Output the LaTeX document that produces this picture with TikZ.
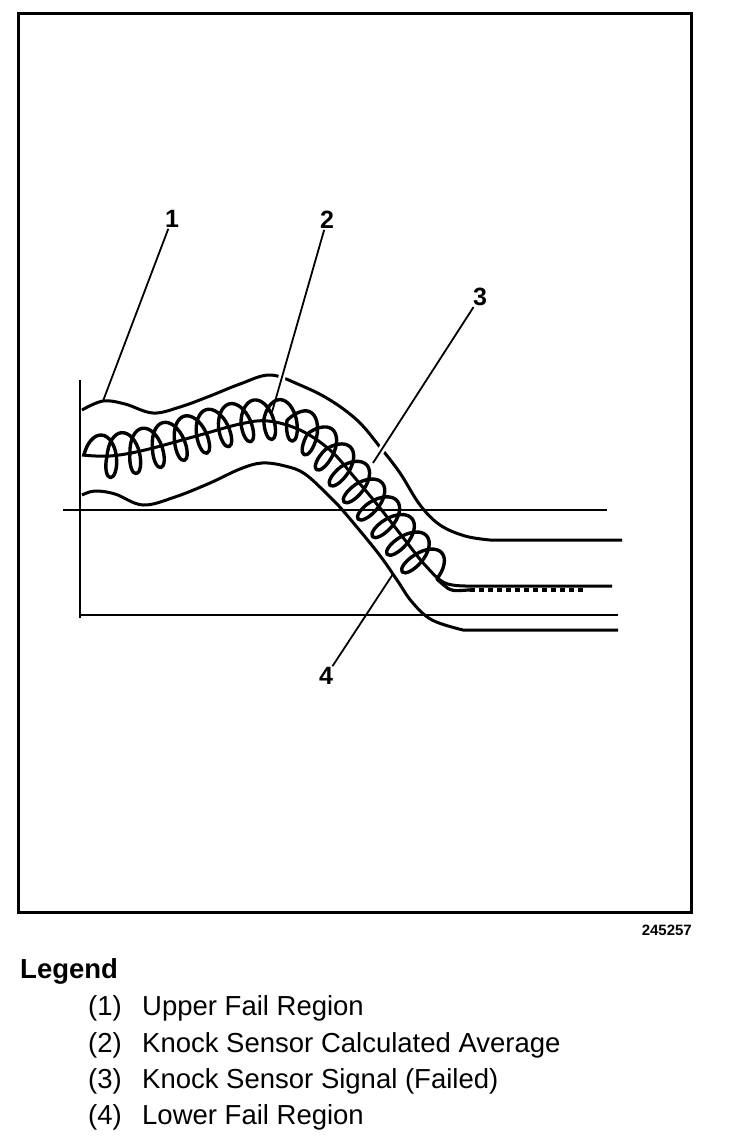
\documentclass[tikz,border=0pt]{standalone}
\usepackage{fontspec}
\setmainfont{Liberation Sans}
\usetikzlibrary{decorations.pathmorphing}

\begin{document}
\begin{tikzpicture}[x=1pt,y=-1pt,
  curve/.style={black, line width=3pt},
  axis/.style={black, line width=2.2pt},
  leader/.style={black, line width=1.8pt},
  gap/.style={preaction={draw=white, line width=7pt}},
  signal/.style={black, line width=3.2pt, line join=round},
  callout/.style={font=\fontsize{25}{25}\selectfont\bfseries, inner sep=1pt},
  legendtext/.style={font=\fontsize{27.5}{30}\selectfont, anchor=base west, inner sep=0pt}]

\useasboundingbox (0,0) rectangle (736,1138);

%FRAME
\draw[line width=3pt] (18.5,13.5) rectangle (691,912);

%AXES
\draw[axis] (80,380) -- (80,618);
\draw[axis] (63,510) -- (607,510);
\draw[axis] (80,615) -- (618,615);

%upper fail region
\draw[curve] plot[smooth, tension=0.6] coordinates {(82,410) (103,401) (125,404) (153,413) (180,407) (210,396) (240,384) (270,375) (300,385) (330,400) (358,421) (380,447) (400,473) (420,505) (440,525) (465,536) (490,540)} -- (622,540);

%call outs
\node[callout] (n1) at (172,219) {1};
\node[callout] (n2) at (327,220) {2};
\node[callout] (n3) at (480,297) {3};
\node[callout] (n4) at (326,676) {4};
\coordinate (p1) at (103,401);
\coordinate (p2) at (272,412);
\coordinate (p3) at (373,463);
\coordinate (p4) at (393,574);
\draw[leader] (n1) -- (p1);
\draw[leader, gap] (n2) -- (p2);
\draw[leader, gap] (n3) -- (p3);
\draw[leader] (n4) -- (p4);

%lower fail region
\draw[curve] plot[smooth, tension=0.6] coordinates {(82,495) (95,491) (115,494) (143,505) (175,497) (210,483) (240,469) (262,463) (285,466) (305,474) (330,497) (345,513) (378,553) (397,580) (412,602) (432,620) (463,630)} -- (618,630);

%average
\draw[curve] plot[smooth, tension=0.6] coordinates {(82,455) (110,456) (145,450) (200,435) (240,424) (268,421) (300,430) (330,450) (355,478) (380,508) (405,540) (425,565) (445,583) (470,586)} -- (612,586);

%signal (drawn at 1/10 size, then scaled up)
\begin{scope}[transform canvas={scale=10}]
\draw[black, line width=0.34pt, line join=round, decorate, decoration={coil, amplitude=2.1pt, segment length=2.3pt, aspect=0.5}] (8.4,45.5) .. controls (15.0,45.9) and (21.0,42.1) .. (26.8,42.1) .. controls (32.0,42.1) and (38.0,52.3) .. (44.5,58.6);
\end{scope}
\draw[signal] (445,586) to[out=-45,in=180] (470,590);
\draw[signal, dash pattern=on 5pt off 4pt] (470,590) -- (583,590);

%LEGEND
\node[font=\fontsize{15}{15}\selectfont\bfseries, anchor=base east, inner sep=0pt] (code) at (692,935.5) {245257};
\node[legendtext, font=\fontsize{27.5}{30}\selectfont\bfseries] (legend) at (20,978) {Legend};
\node[legendtext] (k1) at (88,1015) {(1)};
\node[legendtext] (t1) at (142,1015) {Upper Fail Region};
\node[legendtext] (k2) at (88,1052) {(2)};
\node[legendtext] (t2) at (142,1052) {Knock Sensor Calculated Average};
\node[legendtext] (k3) at (88,1088) {(3)};
\node[legendtext] (t3) at (142,1088) {Knock Sensor Signal (Failed)};
\node[legendtext] (k4) at (88,1124) {(4)};
\node[legendtext] (t4) at (142,1124) {Lower Fail Region};
\end{tikzpicture}
\end{document}
